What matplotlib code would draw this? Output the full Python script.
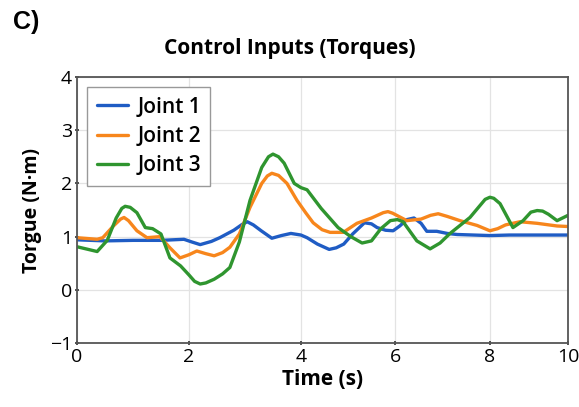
import numpy as np
import matplotlib
matplotlib.use("Agg")
import matplotlib.pyplot as plt

# joint torques
t_j1 = [0, 0.5, 1.0, 1.5, 1.91, 2.05, 2.2, 2.4, 2.55, 2.8, 2.95, 3.04, 3.15, 3.29,
        3.48, 3.65, 3.82, 4.0, 4.13, 4.35, 4.6, 4.75, 4.91, 5.1, 5.35, 5.5, 5.62,
        5.8, 5.96, 6.1, 6.25, 6.4, 6.55, 6.67, 6.88, 7.1, 7.31, 8.0, 8.5, 9.0,
        9.5, 10]
j1 = [0.94, 0.92, 0.93, 0.93, 0.95, 0.90, 0.85, 0.91, 0.98, 1.12, 1.23, 1.28, 1.22,
      1.11, 0.97, 1.02, 1.06, 1.03, 0.98, 0.86, 0.76, 0.79, 0.86, 1.05, 1.26, 1.24,
      1.17, 1.12, 1.11, 1.2, 1.32, 1.35, 1.25, 1.1, 1.10, 1.06, 1.04, 1.02, 1.03,
      1.03, 1.03, 1.03]

t_j2 = [0, 0.36, 0.46, 0.65, 0.78, 0.84, 0.92, 1.07, 1.25, 1.48, 1.66, 1.84, 2.0,
        2.14, 2.3, 2.45, 2.6, 2.73, 2.9, 3.09, 3.3, 3.4, 3.48, 3.6, 3.75, 3.93,
        4.1, 4.26, 4.45, 4.62, 4.9, 5.19, 5.5, 5.75, 5.85, 5.95, 6.25, 6.55, 6.75,
        6.91, 7.1, 7.37, 7.73, 8.0, 8.2, 8.4, 8.77, 9.21, 9.72, 10]
j2 = [0.98, 0.95, 0.98, 1.2, 1.33, 1.36, 1.3, 1.11, 0.98, 1.0, 0.79, 0.6, 0.66,
      0.73, 0.68, 0.64, 0.7, 0.8, 1.05, 1.55, 2.0, 2.14, 2.19, 2.15, 2.0, 1.68,
      1.45, 1.26, 1.13, 1.08, 1.08, 1.25, 1.35, 1.45, 1.47, 1.44, 1.3, 1.33, 1.4,
      1.43, 1.38, 1.3, 1.21, 1.11, 1.15, 1.22, 1.28, 1.25, 1.2, 1.19]

t_j3 = [0, 0.2, 0.36, 0.54, 0.7, 0.8, 0.86, 0.95, 1.07, 1.22, 1.35, 1.5, 1.66, 1.85,
        2.0, 2.1, 2.2, 2.3, 2.45, 2.6, 2.73, 2.9, 3.09, 3.3, 3.42, 3.5, 3.6, 3.7,
        3.88, 4.0, 4.13, 4.43, 4.79, 5.06, 5.3, 5.5, 5.7, 5.9, 6.05, 6.17, 6.46,
        6.74, 6.95, 7.16, 7.58, 7.9, 8.0, 8.1, 8.26, 8.59, 8.85, 9.05, 9.21, 9.35,
        9.5, 9.72, 10]
j3 = [0.81, 0.76, 0.72, 0.93, 1.35, 1.53, 1.57, 1.55, 1.45, 1.17, 1.15, 1.05, 0.6,
      0.45, 0.28, 0.16, 0.11, 0.13, 0.2, 0.3, 0.42, 0.9, 1.68, 2.3, 2.5, 2.55, 2.5,
      2.38, 2.0, 1.92, 1.88, 1.53, 1.17, 1.0, 0.88, 0.92, 1.15, 1.3, 1.32, 1.28,
      0.92, 0.77, 0.88, 1.06, 1.36, 1.7, 1.74, 1.72, 1.62, 1.17, 1.3, 1.46, 1.49,
      1.48, 1.42, 1.3, 1.4]

labels = ["Joint 1", "Joint 2", "Joint 3"]
colors = ["#1f5cc4", "#f7861c", "#2f952f"]

# the time axis in the original is not evenly spaced
x_ticks = [0, 2, 4, 6, 8, 10]
x_pos = [0, 2, 4, 5.68, 7.375, 8.77]


def fwd(x):
    return np.interp(x, x_ticks, x_pos)


def inv(x):
    return np.interp(x, x_pos, x_ticks)


plt.rcParams["font.family"] = ["Open Sans", "DejaVu Sans"]

fig = plt.figure(figsize=(5.79, 4.07), dpi=100)
ax = fig.add_axes([0.133, 0.157, 0.848, 0.654])
ax.set_xscale("function", functions=(fwd, inv))

for t, y, lab, c in zip([t_j1, t_j2, t_j3], [j1, j2, j3], labels, colors):
    ax.plot(t, y, color=c, lw=2.4, label=lab, solid_capstyle="round",
            solid_joinstyle="round")

ax.set_xlim(0, 10)
ax.set_ylim(-1, 4)
ax.set_xticks(x_ticks)
ax.set_yticks([-1, 0, 1, 2, 3, 4])
ax.grid(True, color="#e3e3e3", lw=0.9)
ax.set_axisbelow(True)
for s in ax.spines.values():
    s.set_color("#555555")
    s.set_linewidth(1.3)
ax.tick_params(labelsize=14, length=3, width=1.2, color="#333333", direction="inout",
               pad=2)

ax.set_xlabel("Time (s)", fontsize=15, fontweight="bold", labelpad=2)
ax.set_ylabel("Torgue (N·m)", fontsize=14, fontweight="bold", labelpad=6)
fig.text(0.50, 0.882, "Control Inputs (Torques)", fontsize=15, fontweight="bold",
         ha="center", va="center")
fig.text(0.022, 0.945, "C)", fontsize=18, fontweight="bold", ha="left", va="center",
         family="Liberation Sans")

leg = ax.legend(loc="upper left", fontsize=15, fancybox=False, framealpha=1,
                edgecolor="#999999", handlelength=1.5, handletextpad=0.45,
                borderaxespad=0.5, labelspacing=0.4, borderpad=0.45)
leg.get_frame().set_linewidth(1.0)
for txt in leg.get_texts():
    txt.set_fontweight("semibold")

fig.savefig("out.png", dpi=100)
